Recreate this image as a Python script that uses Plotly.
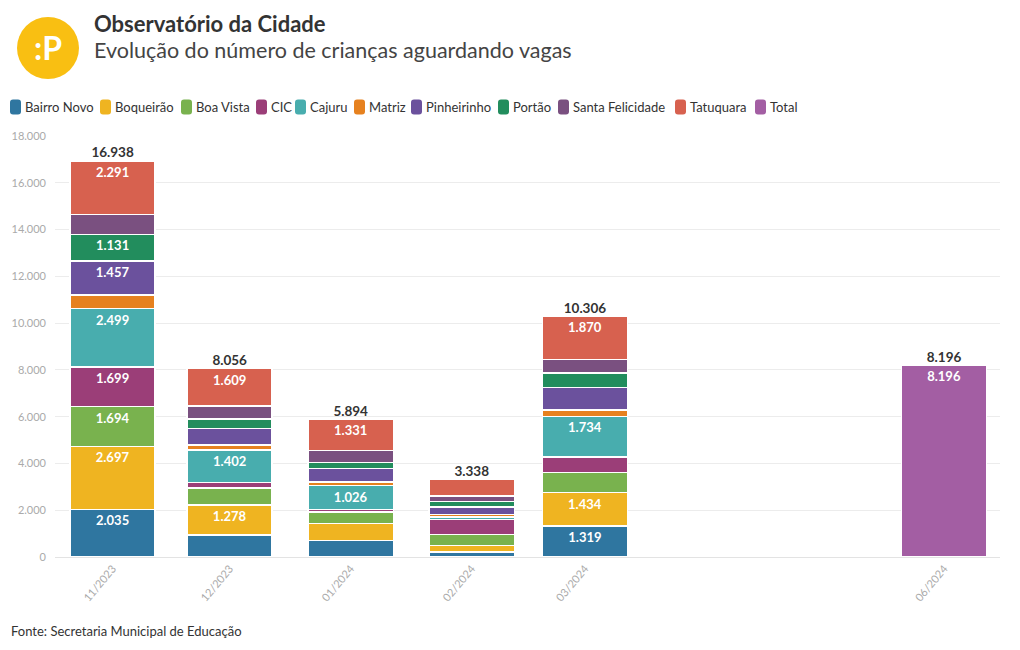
import plotly.graph_objects as go

# ---------------- data ----------------
months = ["2023-11-01", "2023-12-01", "2024-01-01", "2024-02-01", "2024-03-01"]
total_month = ["2024-06-01"]
tick_dates = months + total_month
tick_labels = ["11/2023", "12/2023", "01/2024", "02/2024", "03/2024", "06/2024"]

series_names = ["Bairro Novo", "Boqueirão", "Boa Vista", "CIC", "Cajuru", "Matriz",
                "Pinheirinho", "Portão", "Santa Felicidade", "Tatuquara"]
bairro_novo = [2035, 947, 715, 210, 1319]
boqueirao = [2697, 1278, 715, 290, 1434]
boa_vista = [1694, 715, 500, 470, 860]
cic = [1699, 240, 100, 630, 670]
cajuru = [2499, 1402, 1026, 110, 1734]
matriz = [580, 200, 150, 100, 270]
pinheirinho = [1457, 710, 570, 330, 970]
portao = [1131, 400, 270, 230, 600]
santa_felicidade = [855, 555, 517, 230, 579]
tatuquara = [2291, 1609, 1331, 738, 1870]
total_values = [8196]
series_values = [bairro_novo, boqueirao, boa_vista, cic, cajuru, matriz,
                 pinheirinho, portao, santa_felicidade, tatuquara]

colors = ["#2f76a0", "#efb421", "#79b24e", "#9b3e78", "#48adae", "#e6811f",
          "#6b519d", "#228d5d", "#7a5080", "#d7614f"]
total_color = "#a35ea3"
total_name = "Total"

FONT = "Lato, 'Source Sans Pro', 'Noto Sans', sans-serif"


def fmt(v):
    return f"{v:,}".replace(",", ".")


# ---------------- layout helpers ----------------
W, H = 1020, 650
L, R, T, B = 55, 20, 136, 93
PW, PH = W - L - R, H - T - B


def px(x):
    return (x - L) / PW


def py(y):
    return (H - B - y) / PH


DAY_MS = 86400000
bar_width = 21.8 * DAY_MS

fig = go.Figure()

for name, vals, col in zip(series_names, series_values, colors):
    fig.add_trace(go.Bar(
        x=months, y=vals, name=name,
        marker=dict(color=col, line=dict(color="white", width=1.5)),
        width=[bar_width] * len(vals),
        text=[fmt(v) if v >= 1000 else "" for v in vals],
        textposition="inside", insidetextanchor="end", textangle=0,
        insidetextfont=dict(family=FONT, size=13, color="white", weight="bold"),
        constraintext="none",
        hoverinfo="skip", showlegend=False,
    ))

fig.add_trace(go.Bar(
    x=total_month, y=total_values, name=total_name,
    marker=dict(color=total_color, line=dict(color="white", width=1.5)),
    width=[bar_width] * len(total_values),
    text=[fmt(v) for v in total_values],
    textposition="inside", insidetextanchor="end", textangle=0,
    insidetextfont=dict(family=FONT, size=13, color="white", weight="bold"),
    constraintext="none",
    hoverinfo="skip", showlegend=False,
))

stack_totals = [sum(col) for col in zip(*series_values)]
fig.add_trace(go.Scatter(
    x=months + total_month, y=stack_totals + total_values,
    mode="text", text=[fmt(v) for v in stack_totals + total_values],
    textposition="top center",
    textfont=dict(family=FONT, size=13.5, color="#333333", weight="bold"),
    hoverinfo="skip", showlegend=False, cliponaxis=False,
))

shapes = []
annotations = []

# logo
shapes.append(dict(type="circle", xref="paper", yref="paper",
                   xsizemode="pixel", ysizemode="pixel",
                   xanchor=px(48), yanchor=py(48),
                   x0=-31, x1=31, y0=-31, y1=31,
                   fillcolor="#f9bf12", line=dict(width=0), layer="above"))
annotations.append(dict(text=":P", x=px(48), y=py(48), xref="paper", yref="paper",
                        xanchor="center", yanchor="middle", showarrow=False,
                        font=dict(family=FONT, size=32, color="white", weight="bold")))

# title / subtitle
annotations.append(dict(text="Observatório da Cidade", x=px(92), y=py(23),
                        xref="paper", yref="paper", xanchor="left", yanchor="middle",
                        showarrow=False,
                        font=dict(family=FONT, size=22, color="#333333", weight="bold")))
annotations.append(dict(text="Evolução do número de crianças aguardando vagas", x=px(92), y=py(50),
                        xref="paper", yref="paper", xanchor="left", yanchor="middle",
                        showarrow=False,
                        font=dict(family=FONT, size=21.5, color="#444444")))

# manual legend
legend_names = series_names + [total_name]
legend_colors = colors + [total_color]
legend_x = [10, 100, 181, 256, 295, 354, 411, 498, 558, 675, 755]
rr = "M 3,-7.5 L 8,-7.5 Q 11,-7.5 11,-4.5 L 11,4.5 Q 11,7.5 8,7.5 L 3,7.5 Q 0,7.5 0,4.5 L 0,-4.5 Q 0,-7.5 3,-7.5 Z"
for nm, col, lx in zip(legend_names, legend_colors, legend_x):
    shapes.append(dict(type="path", xref="paper", yref="paper",
                       xsizemode="pixel", ysizemode="pixel",
                       xanchor=px(lx), yanchor=py(107), path=rr,
                       fillcolor=col, line=dict(width=0), layer="above"))
    annotations.append(dict(text=nm, x=px(lx + 13), y=py(107), xref="paper", yref="paper",
                            xanchor="left", yanchor="middle", showarrow=False,
                            font=dict(family=FONT, size=13, color="#333333")))

# footer
annotations.append(dict(text="Fonte: Secretaria Municipal de Educação", x=px(9), y=py(631),
                        xref="paper", yref="paper", xanchor="left", yanchor="middle",
                        showarrow=False,
                        font=dict(family=FONT, size=13, color="#333333")))

fig.update_layout(
    width=W, height=H,
    margin=dict(l=L, r=R, t=T, b=B, pad=0),
    barmode="stack",
    paper_bgcolor="white", plot_bgcolor="white",
    separators=",.",
    showlegend=False,
    font=dict(family=FONT, color="#333333"),
    shapes=shapes, annotations=annotations,
    xaxis=dict(
        type="date",
        range=["2023-10-17 06:00", "2024-06-15 08:00"],
        tickmode="array", tickvals=tick_dates, ticktext=tick_labels,
        tickangle=-50, tickfont=dict(family=FONT, size=11, color="#aaaaaa"),
        showgrid=False, showline=True, linecolor="#e3e3e3", linewidth=1,
        ticks="", zeroline=False, fixedrange=True,
    ),
    yaxis=dict(
        range=[0, 18000], tickmode="linear", tick0=0, dtick=2000,
        tickformat=",d",
        tickfont=dict(family=FONT, size=11, color="#aaaaaa"),
        ticklabelstandoff=8,
        showgrid=True, gridcolor="#ececec", gridwidth=1,
        zeroline=False, showline=False, ticks="", fixedrange=True,
    ),
)

fig.write_html("out.html", config={"displayModeBar": False},
               post_script="document.body.style.margin='0';")
